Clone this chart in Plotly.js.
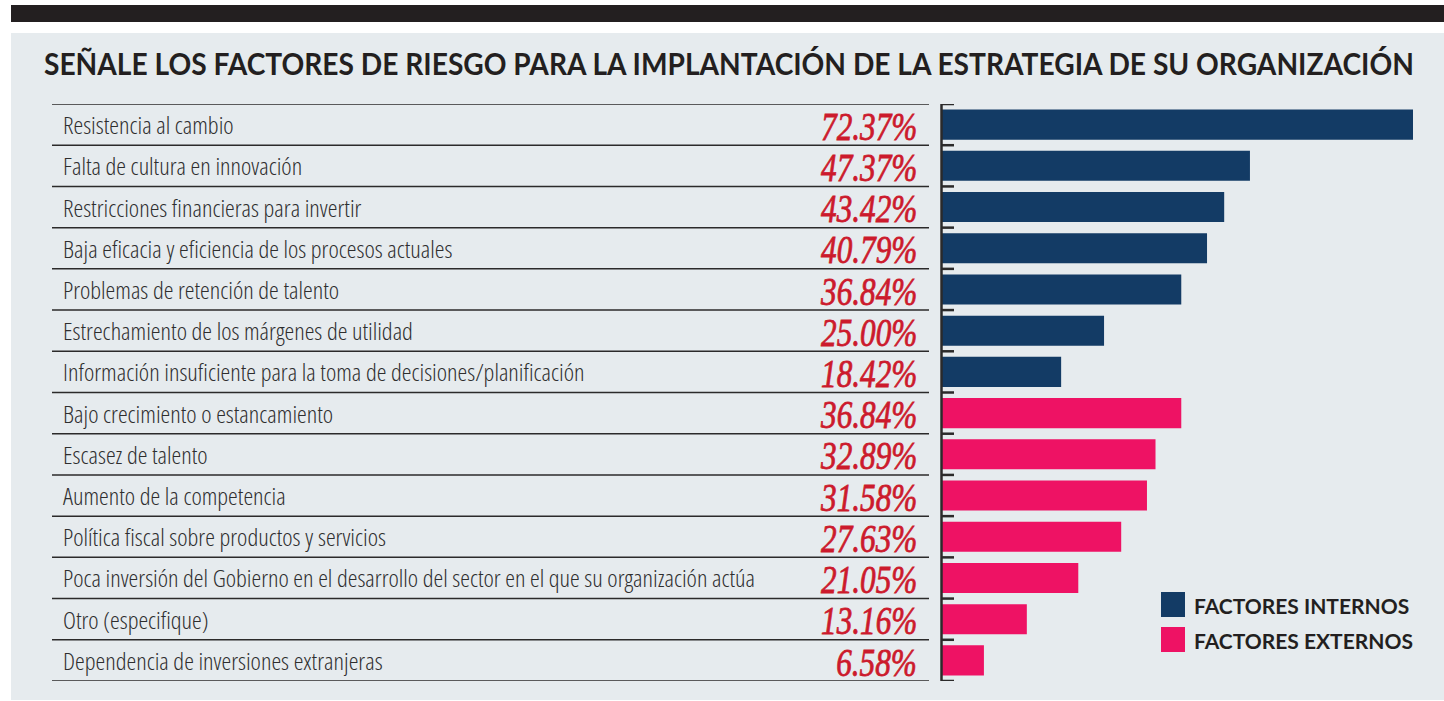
<!DOCTYPE html>
<html>
<head>
<meta charset="utf-8">
<script src="https://cdn.plot.ly/plotly-3.0.1.min.js"></script>
<style>
html,body{margin:0;padding:0;background:#fff;}
#chart{width:1444px;height:701px;}
text.annotation-text[style*="Open Sans"]{font-stretch:condensed;}
</style>
</head>
<body>
<div id="chart"></div>
<script>
const categories = [
  "Resistencia al cambio",
  "Falta de cultura en innovación",
  "Restricciones financieras para invertir",
  "Baja eficacia y eficiencia de los procesos actuales",
  "Problemas de retención de talento",
  "Estrechamiento de los márgenes de utilidad",
  "Información insuficiente para la toma de decisiones/planificación",
  "Bajo crecimiento o estancamiento",
  "Escasez de talento",
  "Aumento de la competencia",
  "Política fiscal sobre productos y servicios",
  "Poca inversión del Gobierno en el desarrollo del sector en el que su organización actúa",
  "Otro (especifique)",
  "Dependencia de inversiones extranjeras"
];
const values = [72.37, 47.37, 43.42, 40.79, 36.84, 25.00, 18.42, 36.84, 32.89, 31.58, 27.63, 21.05, 13.16, 6.58];
const groups = ["int","int","int","int","int","int","int","ext","ext","ext","ext","ext","ext","ext"];
const legendLabels = {int: "FACTORES INTERNOS", ext: "FACTORES EXTERNOS"};
const titleText = "SEÑALE LOS FACTORES DE RIESGO PARA LA IMPLANTACIÓN DE LA ESTRATEGIA DE SU ORGANIZACIÓN";

const W = 1444, H = 701;
const colors = {int: "#133b65", ext: "#ee1264"};
const pctColor = "#cc1a2c";
const ink = "#2b2a2a";
const px = v => v / W;
const py = v => 1 - v / H;

const traces = ["int", "ext"].map(g => {
  const ys = [], xs = [];
  categories.forEach((c, i) => { if (groups[i] === g) { ys.push(i); xs.push(values[i]); } });
  return {
    type: "bar", orientation: "h", x: xs, y: ys, name: legendLabels[g],
    marker: {color: colors[g], line: {width: 0}}, showlegend: false, hoverinfo: "none"
  };
});

const shapes = [
  {type: "rect", xref: "paper", yref: "paper", x0: px(11), x1: 1, y0: py(5), y1: py(22), fillcolor: "#231f20", line: {width: 0}, layer: "below"},
  {type: "rect", xref: "paper", yref: "paper", x0: px(11), x1: 1, y0: py(700), y1: py(33), fillcolor: "#e6ebee", line: {width: 0}, layer: "below"}
];
const n = categories.length;
for (let i = 0; i <= n; i++) {
  shapes.push({type: "line", xref: "paper", yref: "y", x0: px(52), x1: px(929), y0: i - 0.5, y1: i - 0.5, line: {color: ink, width: 1.5}});
  shapes.push({type: "line", xref: "paper", yref: "y", x0: px(941), x1: px(954), y0: i - 0.5, y1: i - 0.5, line: {color: ink, width: 2.5}});
}
shapes.push({type: "line", xref: "paper", yref: "y", x0: px(941.5), x1: px(941.5), y0: -0.5, y1: n - 0.5, line: {color: ink, width: 2.5}});
shapes.push({type: "rect", xref: "paper", yref: "paper", x0: px(1161), x1: px(1185), y0: py(617), y1: py(592), fillcolor: colors.int, line: {width: 0}});
shapes.push({type: "rect", xref: "paper", yref: "paper", x0: px(1161), x1: px(1185), y0: py(652), y1: py(627), fillcolor: colors.ext, line: {width: 0}});

const annotations = [];
categories.forEach((c, i) => {
  annotations.push({xref: "paper", yref: "y", x: px(61), y: i, text: c, showarrow: false, xanchor: "left", yanchor: "middle",
    font: {family: "'Open Sans', sans-serif", size: 24.6, weight: 300, color: "#2e2e2e"}});
  annotations.push({xref: "paper", yref: "y", x: px(919), y: i + 0.04, text: values[i].toFixed(2) + "%", showarrow: false, xanchor: "right", yanchor: "middle",
    font: {family: "'Liberation Serif', 'Times New Roman', serif", size: 39, weight: 400, style: "italic", color: pctColor}});
});
annotations.push({xref: "paper", yref: "paper", x: px(1192), y: py(605), text: legendLabels.int, showarrow: false, xanchor: "left", yanchor: "middle",
  font: {family: "Lato, sans-serif", size: 21, weight: 700, color: "#231f20"}});
annotations.push({xref: "paper", yref: "paper", x: px(1192), y: py(640), text: legendLabels.ext, showarrow: false, xanchor: "left", yanchor: "middle",
  font: {family: "Lato, sans-serif", size: 21, weight: 700, color: "#231f20"}});

const layout = {
  width: W, height: H,
  margin: {l: 0, r: 0, t: 0, b: 0, pad: 0},
  paper_bgcolor: "#ffffff", plot_bgcolor: "rgba(0,0,0,0)",
  title: {text: titleText, x: px(44), xanchor: "left", xref: "paper", y: py(64), yanchor: "middle", yref: "paper",
    font: {family: "Lato, 'Open Sans', sans-serif", size: 31, weight: 700, color: "#231f20"}},
  barmode: "overlay",
  bargap: 0.27,
  xaxis: {domain: [px(941), px(1413)], range: [0, 72.37], showgrid: false, zeroline: false, showticklabels: false, showline: false, ticks: "", fixedrange: true},
  yaxis: {domain: [py(681), py(104)], range: [n - 0.5, -0.5], type: "linear",
    showgrid: false, zeroline: false, showticklabels: false, showline: false, ticks: ""},
  shapes: shapes,
  annotations: annotations
};

Plotly.newPlot("chart", traces, layout, {staticPlot: true, displayModeBar: false}).then(gd => {
  const t = gd.querySelector("text.gtitle");
  if (t) {
    const bb = t.getBBox();
    const s = 1370 / bb.width;
    t.style.transformBox = "fill-box";
    t.style.transformOrigin = "left center";
    t.style.transform = "scaleX(" + s.toFixed(4) + ")";
  }
  gd.querySelectorAll("text.annotation-text").forEach(el => {
    if (/%$/.test(el.textContent)) {
      el.style.transformBox = "fill-box";
      el.style.transformOrigin = "right center";
      el.style.transform = "scaleX(0.8)";
      el.style.stroke = pctColor;
      el.style.strokeWidth = "0.8px";
    }
  });
});
</script>
</body>
</html>
